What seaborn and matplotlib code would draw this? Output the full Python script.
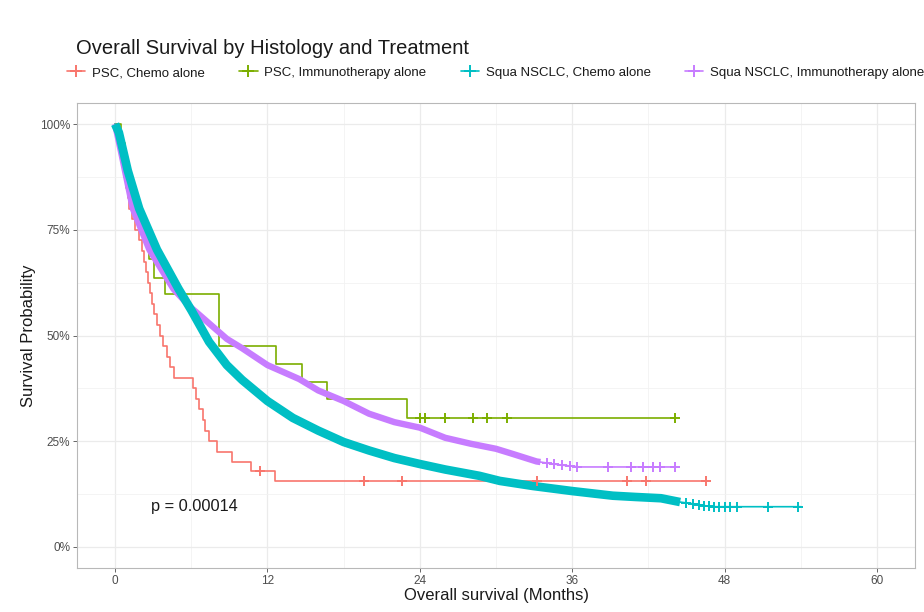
"""
Overall survival by histology and treatment
Kaplan-Meier style chart redrawn with seaborn
"""

import numpy as np
import pandas as pd
import matplotlib
matplotlib.use('Agg')
import matplotlib.pyplot as plt
import seaborn as sns
from matplotlib.lines import Line2D
from matplotlib.ticker import MultipleLocator, PercentFormatter

# Groups and ggplot default hue colours
GROUPS = ['PSC, Chemo alone', 'PSC, Immunotherapy alone',
          'Squa NSCLC, Chemo alone', 'Squa NSCLC, Immunotherapy alone']
COLORS = ['#F8766D', '#7CAE00', '#00BFC4', '#C77CFF']

# PSC, Chemo alone - step curve (month, survival %)
psc_chemo_t = [0, 0.15, 0.3, 0.45, 0.6, 0.7, 0.85, 1.0, 1.1, 1.35, 1.6, 1.85, 2.1, 2.3,
               2.45, 2.6, 2.75, 2.9, 3.1, 3.3, 3.55, 3.8, 4.05, 4.3, 4.65, 6.1,
               6.4, 6.6, 6.9, 7.1, 7.4, 8.0, 9.2, 10.7, 12.6, 46.5]
psc_chemo_s = [100, 97.5, 95, 92.5, 90, 87.5, 85, 82.5, 80, 77.5, 75, 72.5, 70, 67.5,
               65, 62.5, 60, 57.5, 55, 52.5, 50, 47.5, 45, 42.5, 40, 37.5,
               35, 32.5, 30, 27.5, 25, 22.5, 20, 17.9, 15.6, 15.6]
psc_chemo_cens = [11.4, 19.6, 22.6, 33.2, 40.3, 41.8, 46.5]

# PSC, Immunotherapy alone - step curve
psc_io_t = [0, 0.5, 0.8, 1.1, 1.5, 1.9, 2.3, 2.7, 3.1, 3.9, 8.2, 12.7, 14.7, 16.7, 23.0, 44.1]
psc_io_s = [100, 95.5, 91, 86.4, 81.8, 77.3, 72.7, 68.2, 63.6, 59.8, 47.5, 43.3, 39.0,
            35.0, 30.5, 30.5]
psc_io_cens = [24.0, 24.4, 26.0, 28.2, 29.3, 30.9, 44.1]

# Squa NSCLC, Chemo alone - large cohort, read points along the curve
sq_chemo_t = [0, 0.3, 1.0, 1.9, 3.3, 5.0, 6.0, 7.4, 8.8, 10.0, 12.0, 14.0,
              16.0, 18.0, 20.0, 22.0, 24.0, 26.0, 28.7, 30.3, 32.9, 36.0, 39.2, 41.0,
              43.0, 44.5, 46.0, 46.9, 54.0]
sq_chemo_s = [100, 98, 89, 80, 70.3, 61, 56, 48.5, 43, 39.5, 34.5, 30.5,
              27.5, 24.8, 22.8, 21.0, 19.6, 18.3, 16.8, 15.6, 14.4, 13.2, 12.1, 11.8,
              11.5, 10.6, 10.0, 9.5, 9.5]
sq_chemo_dense_end = 44.5
sq_chemo_cens = [45.0, 45.5, 46.0, 46.4, 46.8, 47.2, 47.6, 48.0, 48.4, 49.0, 51.4, 53.8]

# Squa NSCLC, Immunotherapy alone
sq_io_t = [0, 0.5, 1.4, 2.7, 4.6, 6.0, 6.4, 8.8, 10.0, 12.0, 14.5, 16.0, 18.0,
           20.0, 22.0, 24.0, 26.0, 28.0, 30.0, 31.3, 33.2, 35.0, 36.6, 44.1]
sq_io_s = [100, 93, 80, 70.3, 61, 56.5, 55.5, 49.2, 47, 43, 39.7, 37, 34.5,
           31.5, 29.5, 28.2, 25.8, 24.4, 23.2, 22, 20.2, 19.4, 18.9, 18.9]
sq_io_dense_end = 33.5
sq_io_cens = [34.0, 34.6, 35.2, 35.8, 36.4, 38.8, 40.6, 41.6, 42.4, 42.9, 44.1]

P_TEXT = 'p = 0.00014'


def step_value(t, s, at):
    """Survival of a step curve at the given times"""
    t = np.asarray(t)
    s = np.asarray(s)
    idx = np.searchsorted(t, at, side='right') - 1
    return s[idx] / 100


def main():
    sns.set_theme(style='white')
    plt.rcParams['font.family'] = ['Liberation Sans', 'DejaVu Sans']

    fig = plt.figure(figsize=(9.24, 6.12), dpi=100)
    ax = fig.add_axes([77 / 924, 1 - 568 / 612, 838 / 924, 465 / 612])

    # thin step lines for the small PSC cohorts
    for t, s, col in [(psc_chemo_t, psc_chemo_s, COLORS[0]),
                      (psc_io_t, psc_io_s, COLORS[1])]:
        df = pd.DataFrame({'month': t, 'surv': np.array(s) / 100})
        sns.lineplot(data=df, x='month', y='surv', color=col, drawstyle='steps-post',
                     estimator=None, sort=False, linewidth=1.2, ax=ax, zorder=3)

    # large cohorts: thin line + thick band where censor marks pile up
    bands = [(sq_io_t, sq_io_s, sq_io_dense_end, COLORS[3], 4.6),
             (sq_chemo_t, sq_chemo_s, sq_chemo_dense_end, COLORS[2], 6.2)]
    for t, s, dense_end, col, lw in bands:
        df = pd.DataFrame({'month': t, 'surv': np.array(s) / 100})
        sns.lineplot(data=df, x='month', y='surv', color=col, estimator=None,
                     sort=False, linewidth=1.2, ax=ax, zorder=3)
    for i, (t, s, dense_end, col, lw) in enumerate(bands):
        df = pd.DataFrame({'month': t, 'surv': np.array(s) / 100})
        dense = df[df['month'] <= dense_end].copy()
        last = pd.DataFrame({'month': [dense_end],
                             'surv': [np.interp(dense_end, t, s) / 100]})
        dense = pd.concat([dense, last], ignore_index=True)
        line = sns.lineplot(data=dense, x='month', y='surv', color=col, estimator=None,
                            sort=False, linewidth=lw, ax=ax, zorder=4 + i)
        line.lines[-1].set_solid_capstyle('butt')

    # censor marks
    cens = [
        (psc_chemo_cens, step_value(psc_chemo_t, psc_chemo_s, psc_chemo_cens), COLORS[0]),
        (psc_io_cens, step_value(psc_io_t, psc_io_s, psc_io_cens), COLORS[1]),
        (sq_chemo_cens, np.interp(sq_chemo_cens, sq_chemo_t, sq_chemo_s) / 100, COLORS[2]),
        (sq_io_cens, np.interp(sq_io_cens, sq_io_t, sq_io_s) / 100, COLORS[3]),
    ]
    for x, y, col in cens:
        sns.scatterplot(x=x, y=y, marker='+', color=col, s=50, linewidth=1.4,
                        ax=ax, zorder=7)

    ax.text(2.8, 0.095, P_TEXT, ha='left', va='center', fontsize=11.8, color='#1a1a1a')

    # axes, grid, ticks in theme_bw spirit
    ax.set_xlim(-3, 63)
    ax.set_ylim(-0.05, 1.05)
    ax.xaxis.set_major_locator(MultipleLocator(12))
    ax.xaxis.set_minor_locator(MultipleLocator(6))
    ax.yaxis.set_major_locator(MultipleLocator(0.25))
    ax.yaxis.set_minor_locator(MultipleLocator(0.125))
    ax.yaxis.set_major_formatter(PercentFormatter(1.0, decimals=0))
    ax.grid(which='major', color='#EBEBEB', linewidth=0.9)
    ax.grid(which='minor', color='#F2F2F2', linewidth=0.6)
    ax.set_axisbelow(True)
    for sp in ax.spines.values():
        sp.set_color('#B8B8B8')
        sp.set_linewidth(0.8)
    ax.tick_params(which='major', length=3, width=0.7, color='#666666',
                   labelsize=8.5, labelcolor='#4D4D4D', pad=2, left=True, bottom=True)
    ax.tick_params(which='minor', length=0)

    ax.set_xlabel('Overall survival (Months)', fontsize=12, color='#1a1a1a', labelpad=1)
    ax.set_ylabel('Survival Probability', fontsize=12, color='#1a1a1a', labelpad=3)

    fig.text(76 / 924, 1 - 48 / 612, 'Overall Survival by Histology and Treatment',
             fontsize=14.5, ha='left', va='center', color='#1a1a1a')

    handles = [Line2D([0], [0], color=c, lw=1.2, marker='+', markersize=8,
                      markeredgewidth=1.4) for c in COLORS]
    fig.legend(handles, GROUPS, ncol=4, loc='center left',
               bbox_to_anchor=(55 / 924, 1 - 73 / 612), frameon=False,
               fontsize=9.5, handlelength=1.4, handletextpad=0.5,
               columnspacing=2.6, labelcolor='#1a1a1a')

    fig.savefig('out.png', dpi=100)
    plt.close(fig)


if __name__ == '__main__':
    main()
